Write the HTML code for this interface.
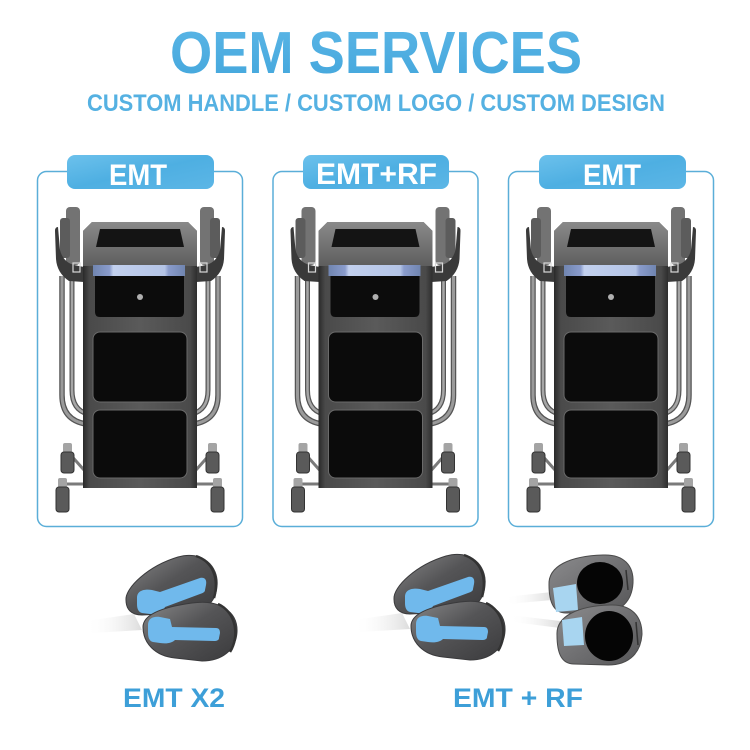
<!DOCTYPE html>
<html><head><meta charset="utf-8"><style>
html,body{margin:0;padding:0;background:#fff;}
svg{display:block;}
text{font-family:"Liberation Sans",Arial,sans-serif;font-weight:bold;}
</style></head><body>
<svg width="750" height="750" viewBox="0 0 750 750" xmlns="http://www.w3.org/2000/svg">
<defs>
<linearGradient id="tg" x1="0" y1="0" x2="0" y2="1"><stop offset="0" stop-color="#5bb6e6"/><stop offset="1" stop-color="#43a6dc"/></linearGradient>
<linearGradient id="pg" x1="0" y1="0" x2="1" y2="1"><stop offset="0" stop-color="#6cc1ec"/><stop offset="0.5" stop-color="#4eafe2"/><stop offset="1" stop-color="#5cb6e6"/></linearGradient>
<linearGradient id="bodyg" x1="0" y1="0" x2="1" y2="0"><stop offset="0" stop-color="#2a2a2a"/><stop offset="0.06" stop-color="#4a4a4a"/><stop offset="0.5" stop-color="#5a5a5a"/><stop offset="0.94" stop-color="#4a4a4a"/><stop offset="1" stop-color="#2e2e2e"/></linearGradient>
<linearGradient id="headg" x1="0" y1="0" x2="0" y2="1"><stop offset="0" stop-color="#8a8a8a"/><stop offset="1" stop-color="#5e5e5e"/></linearGradient>
<linearGradient id="barg" x1="0" y1="0" x2="1" y2="0"><stop offset="0" stop-color="#7085b0"/><stop offset="0.18" stop-color="#8a9ccc"/><stop offset="0.22" stop-color="#c2d0ee"/><stop offset="0.78" stop-color="#b4c4e6"/><stop offset="0.82" stop-color="#8a9ccc"/><stop offset="1" stop-color="#7085b0"/></linearGradient>
<linearGradient id="hpg" x1="0" y1="0" x2="1" y2="1"><stop offset="0" stop-color="#888889"/><stop offset="0.45" stop-color="#555557"/><stop offset="1" stop-color="#3a3a3c"/></linearGradient>
<linearGradient id="rfg" x1="0" y1="0" x2="1" y2="1"><stop offset="0" stop-color="#8c8c8e"/><stop offset="1" stop-color="#555557"/></linearGradient>
<linearGradient id="cab" x1="0" y1="0" x2="1" y2="0"><stop offset="0" stop-color="#ffffff" stop-opacity="0"/><stop offset="1" stop-color="#dcdcdc"/></linearGradient>
</defs>

<!-- Title -->
<text x="170" y="73" font-size="59" fill="url(#tg)" textLength="412" lengthAdjust="spacingAndGlyphs">OEM SERVICES</text>
<text x="87" y="111" font-size="24" fill="#55b1e2" textLength="578" lengthAdjust="spacingAndGlyphs">CUSTOM HANDLE / CUSTOM LOGO / CUSTOM DESIGN</text>

<!-- Boxes -->
<rect x="37.5" y="171.5" width="205" height="355" rx="9" fill="none" stroke="#5aaed8" stroke-width="1.5"/>
<rect x="273" y="171.5" width="205" height="355" rx="9" fill="none" stroke="#5aaed8" stroke-width="1.5"/>
<rect x="508.5" y="171.5" width="205" height="355" rx="9" fill="none" stroke="#5aaed8" stroke-width="1.5"/>

<!-- Pills -->
<rect x="67" y="155" width="147" height="34" rx="8" fill="url(#pg)"/>
<rect x="303" y="155" width="146" height="34" rx="8" fill="url(#pg)"/>
<rect x="539" y="155" width="147" height="34" rx="8" fill="url(#pg)"/>
<text x="109" y="185" font-size="30" fill="#fff" textLength="58" lengthAdjust="spacingAndGlyphs">EMT</text>
<text x="316" y="184" font-size="30" fill="#fff" textLength="121" lengthAdjust="spacingAndGlyphs">EMT+RF</text>
<text x="583" y="185" font-size="30" fill="#fff" textLength="58" lengthAdjust="spacingAndGlyphs">EMT</text>

<!-- Machine 1 -->
<g id="mach1">
  <g>
    <path d="M62,276 L62,395 Q62,420 86,424" stroke="#555" stroke-width="5.5" fill="none"/>
    <path d="M62,276 L62,395 Q62,420 86,424" stroke="#9a9a9a" stroke-width="3" fill="none"/>
    <path d="M72,280 L72,390 Q72,410 88,414" stroke="#555" stroke-width="5" fill="none"/>
    <path d="M72,280 L72,390 Q72,410 88,414" stroke="#a6a6a6" stroke-width="2.5" fill="none"/>
    <rect x="66" y="207" width="14" height="58" rx="4" fill="#737373"/>
    <rect x="60" y="218" width="10" height="40" rx="3" fill="#5c5c5c"/>
    <path d="M55,231 Q55,227 58,227 L60,250 Q63,262 74,265 L84,267 L84,282 L69,281 Q57,273 56,259 Z" fill="#3a3a3a"/>
    <rect x="73" y="263" width="7" height="9" fill="none" stroke="#d8d8d8" stroke-width="1.2"/>
    <line x1="84" y1="470" x2="68" y2="452" stroke="#7a7a7a" stroke-width="3"/>
    <line x1="84" y1="484" x2="63" y2="484" stroke="#7a7a7a" stroke-width="3"/>
    <rect x="63" y="443" width="9" height="10" rx="2" fill="#a4a4a4"/>
    <rect x="61" y="452" width="13" height="21" rx="3" fill="#5a5a5a" stroke="#333" stroke-width="1"/>
    <rect x="58" y="478" width="9" height="10" rx="2" fill="#a4a4a4"/>
    <rect x="56" y="487" width="13" height="25" rx="3" fill="#5a5a5a" stroke="#333" stroke-width="1"/>
  </g>
  <g transform="matrix(-1,0,0,1,280,0)">
    <path d="M62,276 L62,395 Q62,420 86,424" stroke="#555" stroke-width="5.5" fill="none"/>
    <path d="M62,276 L62,395 Q62,420 86,424" stroke="#9a9a9a" stroke-width="3" fill="none"/>
    <path d="M72,280 L72,390 Q72,410 88,414" stroke="#555" stroke-width="5" fill="none"/>
    <path d="M72,280 L72,390 Q72,410 88,414" stroke="#a6a6a6" stroke-width="2.5" fill="none"/>
    <rect x="66" y="207" width="14" height="58" rx="4" fill="#737373"/>
    <rect x="60" y="218" width="10" height="40" rx="3" fill="#5c5c5c"/>
    <path d="M55,231 Q55,227 58,227 L60,250 Q63,262 74,265 L84,267 L84,282 L69,281 Q57,273 56,259 Z" fill="#3a3a3a"/>
    <rect x="73" y="263" width="7" height="9" fill="none" stroke="#d8d8d8" stroke-width="1.2"/>
    <line x1="84" y1="470" x2="68" y2="452" stroke="#7a7a7a" stroke-width="3"/>
    <line x1="84" y1="484" x2="63" y2="484" stroke="#7a7a7a" stroke-width="3"/>
    <rect x="63" y="443" width="9" height="10" rx="2" fill="#a4a4a4"/>
    <rect x="61" y="452" width="13" height="21" rx="3" fill="#5a5a5a" stroke="#333" stroke-width="1"/>
    <rect x="58" y="478" width="9" height="10" rx="2" fill="#a4a4a4"/>
    <rect x="56" y="487" width="13" height="25" rx="3" fill="#5a5a5a" stroke="#333" stroke-width="1"/>
  </g>
  <path d="M92,222 H188 L197,231 V488 H83 V231 Z" fill="url(#bodyg)"/>
  <path d="M92,222 H188 L197,231 V266 H83 V231 Z" fill="url(#headg)"/>
  <polygon points="100,229 180,229 184,247 96,247" fill="#141414"/>
  <rect x="93" y="265" width="92" height="11" fill="url(#barg)"/>
  <path d="M95,276 H184 V312 Q184,317 179,317 H100 Q95,317 95,312 Z" fill="#0c0c0c"/>
  <circle cx="140" cy="297" r="3" fill="#b0b0b0"/>
  <rect x="93" y="332" width="94" height="70" rx="7" fill="#0b0b0b" stroke="#6a6a6a" stroke-width="1"/>
  <rect x="93" y="410" width="94" height="68" rx="7" fill="#0b0b0b" stroke="#6a6a6a" stroke-width="1"/>
</g>
<use href="#mach1" x="235.5"/>
<use href="#mach1" x="471"/>

<!-- EMT handpieces pair -->
<g id="emtpair">
  <path d="M86,621 L134,614 L142,630 L92,633 Z" fill="url(#cab)"/>
  <path d="M126,600 C125,588 148,566 178,557 C202,550 219,566 217,586 C216,603 203,613 185,613 L142,615 C131,615 126,609 126,600 Z" fill="url(#hpg)" stroke="#3a3a3c" stroke-width="1"/>
  <path d="M196,556 C214,562 219,580 214,598" stroke="#333" stroke-width="2.5" fill="none"/>
  <path d="M137,598 C137,590 145,589 152,590 L160,592 L200,578 C205,577 207,580 206,585 L205,590 C205,592 203,593 200,594 L165,607 C163,612 158,614 150,614 L142,613 C138,612 137,608 137,604 Z" fill="#70b9ec"/>
  <path d="M143,627 C143,614 163,607 192,603 C220,599 238,612 237,632 C236,650 222,661 202,661 L175,658 C155,656 143,643 143,627 Z" fill="url(#hpg)" stroke="#3a3a3c" stroke-width="1"/>
  <path d="M218,604 C236,612 240,636 230,652" stroke="#333" stroke-width="2.5" fill="none"/>
  <path d="M148,625 C148,618 154,616 160,617 L170,619 L172,627 L216,628 C219,628 220,630 220,633 L219,638 C219,640 217,641 214,641 L175,640 C172,643 167,644 160,643 L153,642 C149,641 148,637 148,632 Z" fill="#70b9ec"/>
</g>
<use href="#emtpair" x="268" y="-1"/>

<!-- RF handpieces -->
<path d="M505,597 L552,592 L552,600 L508,604 Z" fill="url(#cab)"/>
<path d="M510,615 L560,621 L560,628 L513,622 Z" fill="url(#cab)"/>
<path d="M549,585 C548,566 570,556 603,555 C624,554 634,566 633,583 C632,601 621,613 600,613 L566,613 C554,613 549,603 549,585 Z" fill="url(#rfg)" stroke="#4a4a4a" stroke-width="1"/>
<ellipse cx="600" cy="583" rx="23" ry="21" fill="#050505"/>
<polygon points="553,588 576,584 578,610 556,612" fill="#a8d5f0"/>
<path d="M626,570 L628,590" stroke="#333" stroke-width="1.5"/>
<path d="M557,635 C556,616 578,606 610,605 C632,604 642,617 642,634 C641,652 630,665 608,665 L574,664 C562,664 557,654 557,635 Z" fill="url(#rfg)" stroke="#4a4a4a" stroke-width="1"/>
<ellipse cx="609" cy="636" rx="24" ry="25" fill="#050505"/>
<polygon points="562,620 582,617 584,645 564,646" fill="#a8d5f0"/>
<path d="M636,622 L638,645" stroke="#333" stroke-width="1.5"/>

<!-- Bottom labels -->
<text x="123" y="707" font-size="27" fill="#3d9fd8" textLength="102" lengthAdjust="spacingAndGlyphs">EMT X2</text>
<text x="453" y="707" font-size="27" fill="#3d9fd8" textLength="130" lengthAdjust="spacingAndGlyphs">EMT + RF</text>
</svg>
</body></html>
